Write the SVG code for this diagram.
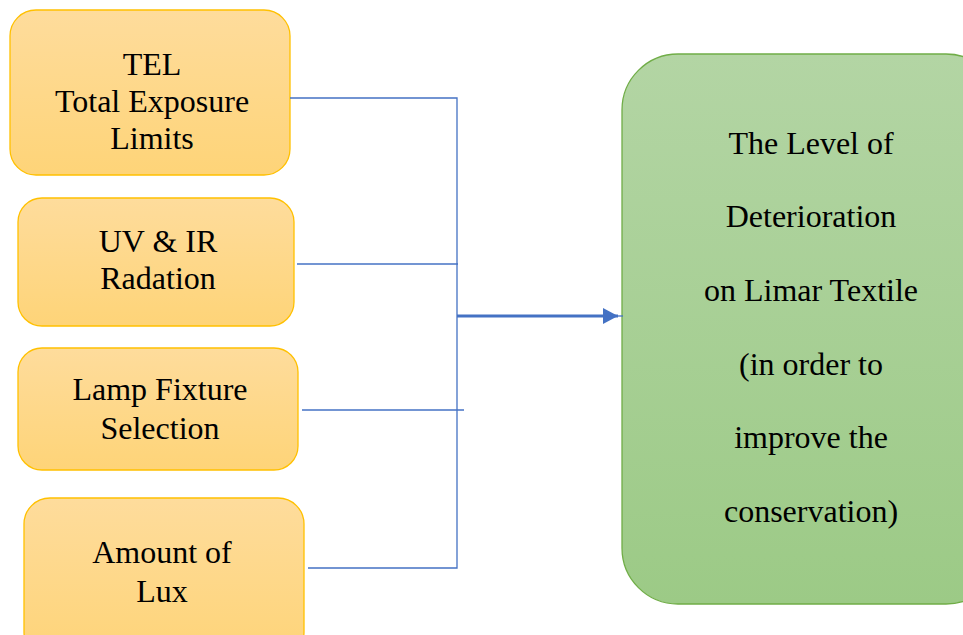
<svg xmlns="http://www.w3.org/2000/svg" width="963" height="635" viewBox="0 0 963 635">
  <defs>
    <linearGradient id="orangeFill" x1="0" y1="0" x2="0" y2="1">
      <stop offset="0" stop-color="#FEDC9C"/>
      <stop offset="1" stop-color="#FED478"/>
    </linearGradient>
    <linearGradient id="greenFill" x1="0" y1="0" x2="0" y2="1">
      <stop offset="0" stop-color="#B3D5A4"/>
      <stop offset="1" stop-color="#9CCA86"/>
    </linearGradient>
    <marker id="arrowHead" markerUnits="userSpaceOnUse" markerWidth="16" markerHeight="16" refX="15" refY="8" orient="auto">
      <path d="M0,0 L15,8 L0,16 Z" fill="#4472C4"/>
    </marker>
  </defs>
  <style>
    .factor { fill: url(#orangeFill); stroke: #FFC000; stroke-width: 1.3; }
    .outcome { fill: url(#greenFill); stroke: #70AD47; stroke-width: 1.3; }
    .label { font-size: 32px; fill: #000; text-anchor: middle; }
    .link { fill: none; stroke: #4472C4; stroke-width: 1.3; }
    .main { fill: none; stroke: #4472C4; stroke-width: 3; }
  </style>
  <rect width="963" height="635" fill="#FFFFFF"/>

  <g font-family="Liberation Serif, Times New Roman, serif">
  <g id="tel">
    <rect class="factor" x="10" y="10" width="280" height="165" rx="26" ry="26"/>
    <text class="label" x="152" y="75">TEL</text>
    <text class="label" x="152" y="112">Total Exposure</text>
    <text class="label" x="152" y="149">Limits</text>
  </g>

  <g id="uv-ir">
    <rect class="factor" x="18" y="198" width="276" height="128" rx="24" ry="24"/>
    <text class="label" x="158" y="252">UV &amp; IR</text>
    <text class="label" x="158" y="289">Radation</text>
  </g>

  <g id="lamp">
    <rect class="factor" x="18" y="348" width="280" height="122" rx="24" ry="24"/>
    <text class="label" x="160" y="400">Lamp Fixture</text>
    <text class="label" x="160" y="439">Selection</text>
  </g>

  <g id="lux">
    <rect class="factor" x="24" y="498" width="280" height="160" rx="26" ry="26"/>
    <text class="label" x="162" y="563">Amount of</text>
    <text class="label" x="162" y="602">Lux</text>
  </g>

  <g id="deterioration">
    <rect class="outcome" x="622" y="54" width="380" height="550" rx="56" ry="56"/>
    <text class="label" x="811" y="154">The Level of</text>
    <text class="label" x="811" y="227">Deterioration</text>
    <text class="label" x="811" y="301">on Limar Textile</text>
    <text class="label" x="811" y="375">(in order to</text>
    <text class="label" x="811" y="448">improve the</text>
    <text class="label" x="811" y="522">conservation)</text>
  </g>
  </g>

  <g id="connectors">
    <path class="link" d="M290,98 H457 V568 H308"/>
    <path class="link" d="M297,264 H458"/>
    <path class="link" d="M302,410 H464"/>
    <path class="main" d="M457,316 H618" marker-end="url(#arrowHead)"/>
    <path class="link" d="M605,316 H623"/>
  </g>
</svg>
